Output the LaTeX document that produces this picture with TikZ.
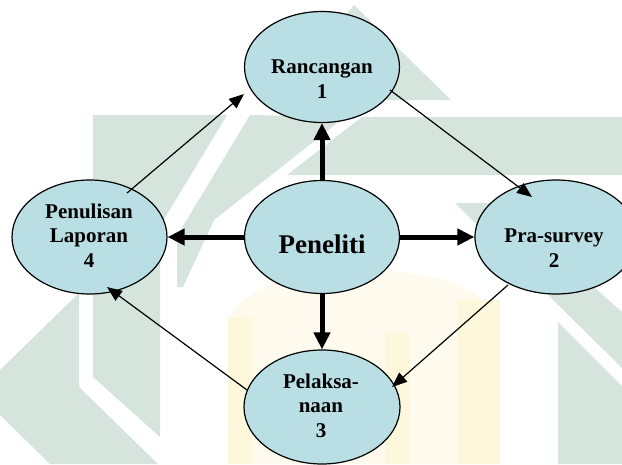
\documentclass[tikz,border=0pt]{standalone}
\usepackage{fontspec}
\setmainfont{Liberation Serif}
\usetikzlibrary{arrows.meta,shapes.geometric,calc}
\definecolor{bubblefill}{RGB}{185,223,228}
\definecolor{sage}{RGB}{213,229,221}
\definecolor{sand}{RGB}{253,247,220}
\definecolor{sandlight}{RGB}{254,251,238}
\begin{document}
\begin{tikzpicture}[x=1pt,y=-1pt,
  bubble/.style={ellipse, draw=black, line width=1.2pt, fill=bubblefill, inner sep=0pt},
  caption/.style={font=\fontsize{21}{24.5}\selectfont\bfseries, align=center, inner sep=0pt},
  bigcaption/.style={font=\fontsize{27}{30}\selectfont\bfseries, inner sep=0pt},
  boldarrow/.style={line width=5pt, -{Triangle[length=17pt,width=16pt]}},
  thinarrow/.style={line width=1.2pt, -{Triangle[length=15pt,width=12pt]}},
  emblem/.style={fill=sage, draw=none},
  dome/.style={fill=sand, draw=none}]
\useasboundingbox (0,0) rectangle (622,464);
\clip (0,0) rectangle (622,464);

% faint emblem in the background
\fill[sandlight] (228,464) -- (228,330) .. controls (228,250) and (500,250) .. (500,330) -- (500,464) -- cycle;
\fill[dome] (228,317) rectangle (253,464);
\fill[dome] (385,333) rectangle (410,464);
\fill[dome] (458,300) rectangle (500,464);
\fill[emblem] (354,5) -- (451,100) -- (275,100) -- cycle;
\fill[emblem] (362,117) -- (622,117) -- (622,175) -- (287,175) -- cycle;
\fill[emblem] (250,115) -- (345,117) -- (214,220) -- (183,287) -- (177,287) -- (177,236) -- cycle;
\fill[emblem] (93,115) -- (227,115) -- (160,226) -- (160,437) -- (93,377) -- cycle;
\fill[emblem] (0,370) -- (79,293) -- (79,387) -- (158,464) -- (50,464) -- (0,415) -- cycle;
\fill[emblem] (455,203) -- (500,203) -- (622,312) -- (622,368) -- cycle;
\fill[emblem] (558,322) -- (622,386) -- (622,464) -- (558,464) -- cycle;

% the five stages
\node[bubble, minimum width=155pt, minimum height=111pt] (R)   at (322,67)  {};
\node[bubble, minimum width=155pt, minimum height=113pt] (P)   at (322,237) {};
\node[bubble, minimum width=155pt, minimum height=114pt] (Lap) at (89.5,237) {};
\node[bubble, minimum width=162pt, minimum height=114pt] (Pra) at (556,237) {};
\node[bubble, minimum width=156pt, minimum height=114pt] (Pel) at (322,407) {};

% the researcher drives every stage
\draw[boldarrow] (P.north) -- (R.south);
\draw[boldarrow] (P.south) -- (Pel.north);
\draw[boldarrow] (P.west)  -- (Lap.east);
\draw[boldarrow] (P.east)  -- (Pra.west);

% the cycle of stages
\draw[thinarrow] ($(R.center)+(68,23)$)     -- ($(Pra.center)+(-24,-40)$);
\draw[thinarrow] ($(Pra.center)+(-48,48)$)  -- ($(Pel.center)+(70,-20)$);
\draw[thinarrow] ($(Pel.center)+(-75,-17)$) -- ($(Lap.center)+(17.5,50)$);
\draw[thinarrow] ($(Lap.center)+(37.5,-44)$) -- ($(R.center)+(-78,27)$);

% texts
\node[caption] (tR)   at (322,79)  {Rancangan\\1};
\node[bigcaption] (tP) at (322,244) {Peneliti};
\node[caption] (tLap) at (89,235.5) {Penulisan\\Laporan\\4};
\node[caption] (tPra) at (554,248) {Pra-survey\\2};
\node[caption] (tPel) at (321,405.5) {Pelaksa-\\naan\\3};
\end{tikzpicture}
\end{document}
